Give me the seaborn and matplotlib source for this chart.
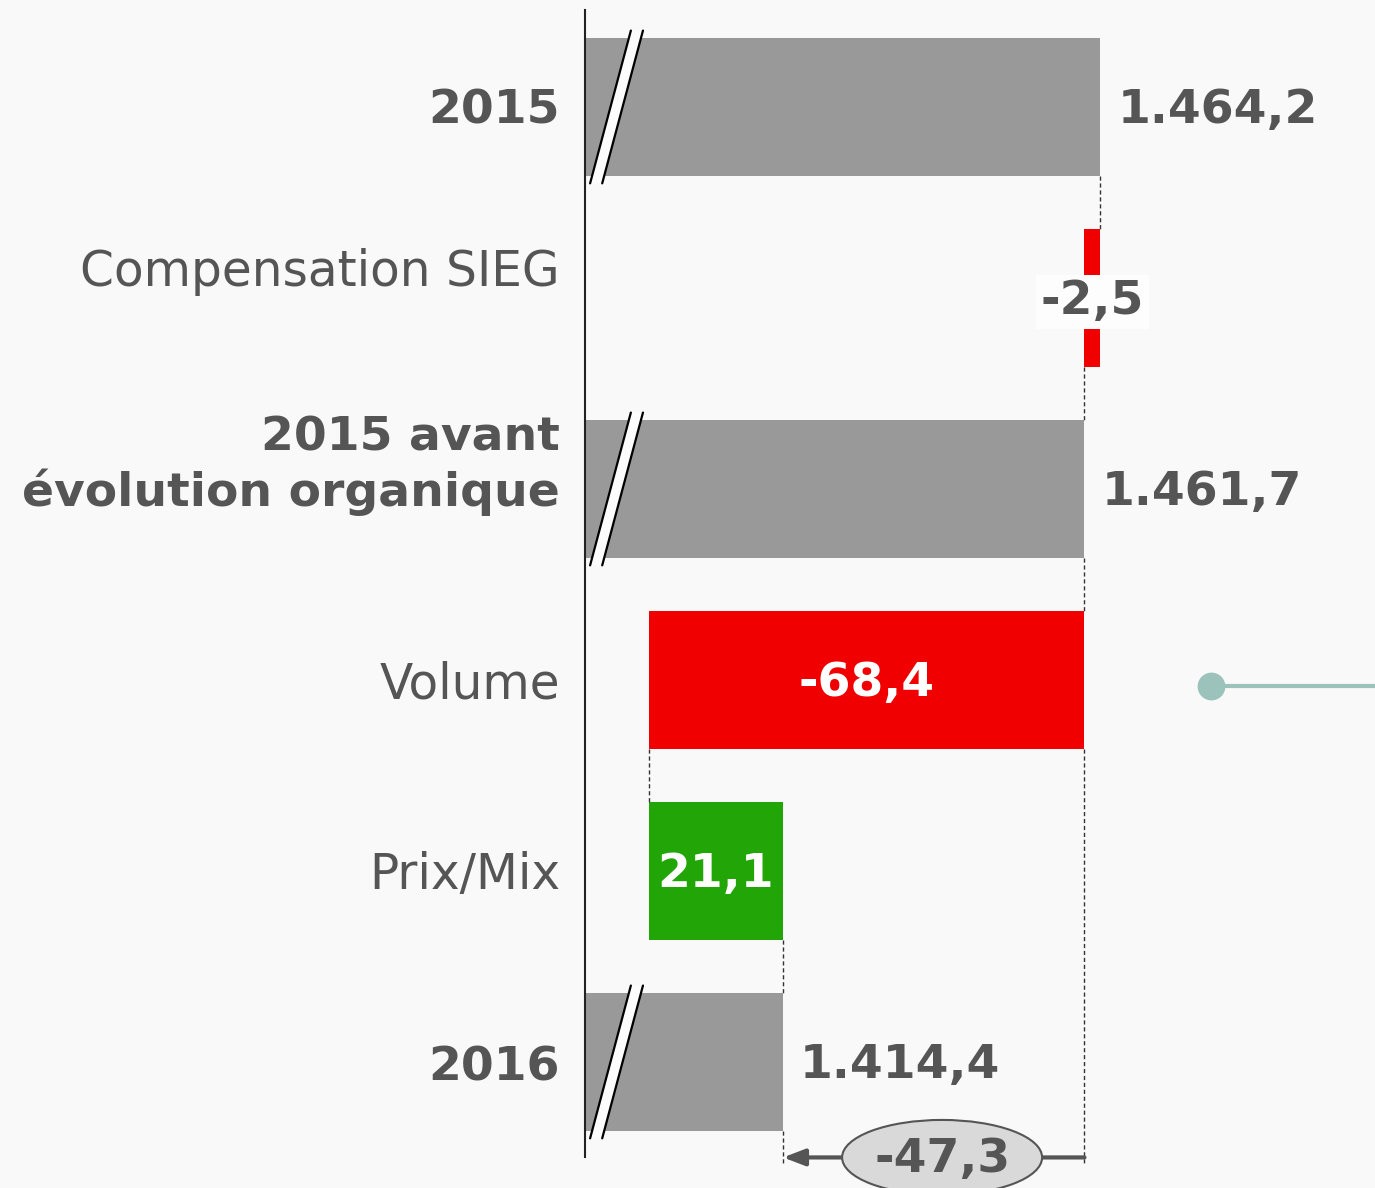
import numpy as np
import pandas as pd
import seaborn as sns
import matplotlib.pyplot as plt
from matplotlib.patches import Polygon, Ellipse

# Data
categories = ["2015", "Compensation SIEG", "2015 avant\névolution organique",
              "Volume", "Prix/Mix", "2016"]
deltas = [1464.2, -2.5, None, -68.4, 21.1, None]
kinds = ["total", "delta", "total", "delta", "delta", "total"]
value_labels = ["1.464,2", "-2,5", "1.461,7", "-68,4", "21,1", "1.414,4"]
bold_labels = [True, False, True, False, False, True]
organic_change = "-47,3"

# running waterfall
starts, ends = [], []
run = 0.0
for d, k in zip(deltas, kinds):
    if k == "total" and d is None:
        starts.append(0.0)
        ends.append(run)
    elif k == "total":
        run = d
        starts.append(0.0)
        ends.append(run)
    else:
        starts.append(run)
        run = run + d
        ends.append(run)
ends = [round(e, 1) for e in ends]

GRAY = "#999999"
RED = "#f00000"
GREEN = "#22a506"
TXT = "#555555"
BG = "#f9f9f9"
colors = [GRAY, RED, GRAY, RED, GREEN, GRAY]
# vertical nudge of the category labels (rows)
label_shift = [0.02, -0.135, -0.12, 0.025, 0.02, 0.03]

df = pd.DataFrame({"cat": categories, "end": ends})

sns.set_style("white")
plt.rcParams['font.family'] = ['DejaVu Sans']

fig = plt.figure(figsize=(13.75, 11.88), dpi=100, facecolor=BG)
ax = fig.add_axes([585 / 1375, 0, 790 / 1375, 1])
ax.set_facecolor("none")

sns.barplot(data=df, x="end", y="cat", hue="cat", palette=colors, legend=False,
            orient="h", width=0.72, ax=ax, saturation=1)

# turn bars into floating bars
for p, s, e, k in zip(ax.patches, starts, ends, kinds):
    if k == "delta":
        lo, hi = min(s, e), max(s, e)
        p.set_x(lo)
        p.set_width(hi - lo)
    p.set_edgecolor("none")

xmin, xmax = 1383.3, 1507.3
ax.set_xlim(xmin, xmax)
ax.set_ylim(5.66, -0.56)
ax.set_xlabel("")
ax.set_ylabel("")
ax.set_xticks([])
for sp in ["top", "right", "bottom"]:
    ax.spines[sp].set_visible(False)
ax.spines["left"].set_bounds(-0.51, 5.5)
ax.spines["left"].set_color("#222222")
ax.spines["left"].set_linewidth(1.5)

ax.set_yticks(range(len(categories)))
ax.set_yticklabels([])
ax.tick_params(axis="y", length=0)
ylab_tr = ax.get_yaxis_transform()
for i, (c, b) in enumerate(zip(categories, bold_labels)):
    ax.text(-25 / 790, i + label_shift[i], c, transform=ylab_tr, ha="right",
            va="center", multialignment="right", linespacing=1.22,
            fontsize=34 if b else 35, fontweight="bold" if b else "normal",
            color=TXT)

upx = 6.37  # pixels per data unit
hh = 0.36

# break marks on total bars
for i, k in enumerate(kinds):
    if k != "total":
        continue
    y0, y1 = i + 0.40, i - 0.40
    a = (xmin + 0.8, y0)
    b = (xmin + 7.2, y1)
    c = (xmin + 9.1, y1)
    d = (xmin + 2.7, y0)
    ax.add_patch(Polygon([a, b, c, d], closed=True, facecolor="#fcfcfc", edgecolor="none", zorder=4))
    ax.plot([a[0], b[0]], [a[1], b[1]], color="black", lw=1.6, zorder=5)
    ax.plot([d[0], c[0]], [d[1], c[1]], color="black", lw=1.6, zorder=5)

# connectors
dash = dict(color="#333333", lw=1, ls=(0, (3, 2)), zorder=1)
for i in range(len(categories) - 1):
    x = ends[i]
    ax.plot([x, x], [i + hh, i + 1 - hh], **dash)
# long line down to the bracket
ax.plot([ends[2], ends[2]], [3 + hh, 5.54], **dash)
ax.plot([ends[5], ends[5]], [5 + hh, 5.54], **dash)

# value labels
for i, (s, e, k, t) in enumerate(zip(starts, ends, kinds, value_labels)):
    if k == "total":
        ax.text(e + 17 / upx, i + 0.02, t, ha="left", va="center", fontsize=34,
                fontweight="bold", color=TXT)
    elif i == 1:
        ax.text((s + e) / 2, i + 0.02, t, ha="center", va="center", fontsize=34,
                fontweight="bold", color=TXT, zorder=6,
                bbox=dict(boxstyle="square,pad=0.1", facecolor="#fdfdfd", edgecolor="none"))
    else:
        ax.text((s + e) / 2, i + 0.02, t, ha="center", va="center", fontsize=34,
                fontweight="bold", color="white")

# organic change bracket
yb = 5.50
ax.annotate("", xy=(ends[5], yb), xytext=(ends[2], yb),
            arrowprops=dict(arrowstyle="-|>,head_length=1.3,head_width=0.5",
                            color="#555555", lw=3, shrinkA=0, shrinkB=0), zorder=3)
xm = (ends[2] + ends[5]) / 2 + 1.3
ax.add_patch(Ellipse((xm, yb), 200 / upx, 75 / 191, facecolor="#d9d9d9",
                     edgecolor="#555555", lw=1.5, zorder=4, clip_on=False))
ax.text(xm, yb + 0.01, organic_change, ha="center", va="center", fontsize=34,
        fontweight="bold", color=TXT, zorder=5)

# teal marker
ax.plot([1481.6, xmax], [3.03, 3.03], color="#9cc3bb", lw=3, zorder=2, clip_on=False)
ax.plot([1481.6], [3.03], marker="o", ms=19, color="#9cc3bb", zorder=3)

fig.savefig("out.png", dpi=100, facecolor=BG)
